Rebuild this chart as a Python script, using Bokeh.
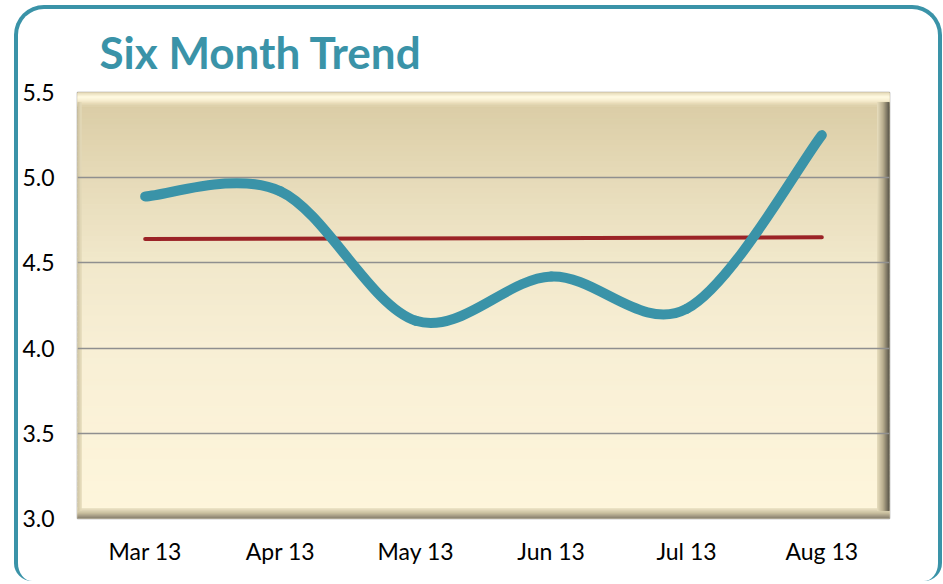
import numpy as np
from bokeh.plotting import figure
from bokeh.models import Range1d, FixedTicker
from bokeh.embed import file_html
from bokeh.resources import INLINE

# ---- data ----
months = ["Mar 13", "Apr 13", "May 13", "Jun 13", "Jul 13", "Aug 13"]
values = [4.89, 4.92, 4.16, 4.42, 4.23, 5.25]
trend = [4.64, 4.65]          # linear trend at first / last month
y_ticks = [3.0, 3.5, 4.0, 4.5, 5.0, 5.5]
title_text = "Six Month Trend"

TEAL = "#3a93a8"
RED = "#9b2327"

x = list(range(len(months)))
y_lo, y_hi = y_ticks[0], y_ticks[-1]
x_lo, x_hi = x[0] - 0.5, x[-1] + 0.5

p = figure(width=928, height=576, output_backend="svg", toolbar_location=None,
           x_range=Range1d(x_lo, x_hi), y_range=Range1d(y_lo, y_hi),
           min_border_left=59, min_border_right=57, min_border_top=82, min_border_bottom=67)
p.styles = {"margin": "5px 0 0 14px", "border": "4px solid " + TEAL, "border-bottom": "0",
            "border-radius": "30px 30px 18px 18px", "overflow": "hidden"}
p.border_fill_alpha = 0
p.background_fill_color = "#fdf5db"

# ---- title ----
p.title.text = title_text
p.title.text_font = "Lato"
p.title.text_font_style = "bold"
p.title.text_font_size = "44px"
p.title.text_color = TEAL
p.title.align = "left"
p.title.offset = 22
p.title.standoff = 29

# ---- background gradient (decoration) ----
def hex2rgb(h):
    h = h.lstrip("#")
    return np.array([int(h[i:i+2], 16) for i in (0, 2, 4)], float)

def grad(stops, t):
    ts = [s[0] for s in stops]
    for i in range(len(stops) - 1):
        if ts[i] <= t <= ts[i+1]:
            f = (t - ts[i]) / (ts[i+1] - ts[i])
            c = hex2rgb(stops[i][1]) * (1 - f) + hex2rgb(stops[i+1][1]) * f
            return "#%02x%02x%02x" % tuple(int(round(v)) for v in c)
    return stops[-1][1]

bg_stops = [(0.0, "#d9cba3"), (0.2, "#e6dab8"), (0.4, "#f1e8cb"), (0.6, "#f8efd5"), (1.0, "#fef6dc")]
N = 80
edges = np.linspace(y_hi, y_lo, N + 1)
p.quad(left=x_lo, right=x_hi, top=edges[:-1], bottom=edges[1:],
       color=[grad(bg_stops, (i + 0.5) / N) for i in range(N)], level="image")

# bevel: pixel sizes converted to data units
px_y = (y_hi - y_lo) / 427.0
px_x = (x_hi - x_lo) / 812.0

# top highlight
top_stops = [(0.0, "#e2d6b2"), (0.35, "#fffae2"), (0.6, "#f7eed0"), (1.0, "#dccfa8")]
M = 14
te = [y_hi - k * px_y for k in range(M + 1)]
p.quad(left=x_lo, right=x_hi, top=te[:-1], bottom=te[1:],
       color=[grad(top_stops, (k + 0.5) / M) for k in range(M)], level="image")

# bottom shadow
bot_stops = [(0.0, "#efe6c8"), (0.5, "#c9bf9f"), (1.0, "#8a8270")]
B = 10
be = [y_lo + (B - k) * px_y for k in range(B + 1)]
p.quad(left=x_lo, right=x_hi, top=be[:-1], bottom=be[1:],
       color=[grad(bot_stops, (k + 0.5) / B) for k in range(B)], level="image")

# right shadow
r_stops = [(0.0, "#e8debe"), (0.5, "#b8ad8e"), (1.0, "#5e594c")]
R = 12
re_ = [x_hi - (R - k) * px_x for k in range(R + 1)]
p.quad(left=re_[:-1], right=re_[1:], top=y_hi - 10 * px_y, bottom=y_lo + 8 * px_y,
       color=[grad(r_stops, (k + 0.5) / R) for k in range(R)], level="image")

# left edge
l_stops = [(0.0, "#c9be9c"), (1.0, "#e6dcbc")]
L = 4
le = [x_lo + k * px_x for k in range(L + 1)]
p.quad(left=le[:-1], right=le[1:], top=y_hi - 10 * px_y, bottom=y_lo + 8 * px_y,
       color=[grad(l_stops, (k + 0.5) / L) for k in range(L)], level="image", alpha=0.6)

# ---- smooth (Catmull-Rom / Bezier) line through the monthly values ----
n = len(x)
x0, y0, x1, y1, cx0, cy0, cx1, cy1 = ([] for _ in range(8))
for i in range(n - 1):
    pm, pp = max(i - 1, 0), min(i + 2, n - 1)
    x0.append(x[i]); y0.append(values[i]); x1.append(x[i+1]); y1.append(values[i+1])
    cx0.append(x[i] + (x[i+1] - x[pm]) / 6.0); cy0.append(values[i] + (values[i+1] - values[pm]) / 6.0)
    cx1.append(x[i+1] - (x[pp] - x[i]) / 6.0); cy1.append(values[i+1] - (values[pp] - values[i]) / 6.0)

p.line(x=[x[0], x[-1]], y=trend, line_color=RED, line_width=4, line_cap="round")
p.bezier(x0=x0, y0=y0, x1=x1, y1=y1, cx0=cx0, cy0=cy0, cx1=cx1, cy1=cy1,
         line_color=TEAL, line_width=10, line_cap="round")

# ---- axes & grid ----
p.outline_line_color = "#9a9a9a"
p.outline_line_width = 1.5

p.xgrid.visible = False
p.ygrid.ticker = FixedTicker(ticks=y_ticks[1:-1])
p.ygrid.grid_line_color = "#8f8f8f"
p.ygrid.grid_line_width = 1.5

p.yaxis.ticker = FixedTicker(ticks=y_ticks)
p.yaxis.major_label_overrides = {v: "%.1f" % v for v in y_ticks}
p.xaxis.ticker = FixedTicker(ticks=x)
p.xaxis.major_label_overrides = {i: m for i, m in zip(x, months)}

for ax in (p.xaxis[0], p.yaxis[0]):
    ax.axis_line_color = None
    ax.major_tick_line_color = None
    ax.minor_tick_line_color = None
    ax.major_label_text_font = "Lato"
    ax.major_label_text_font_size = "23px"
    ax.major_label_text_color = "#000000"
p.yaxis.major_label_standoff = 17
p.xaxis.major_label_standoff = 12

open("out.html", "w").write(file_html(p, INLINE))
